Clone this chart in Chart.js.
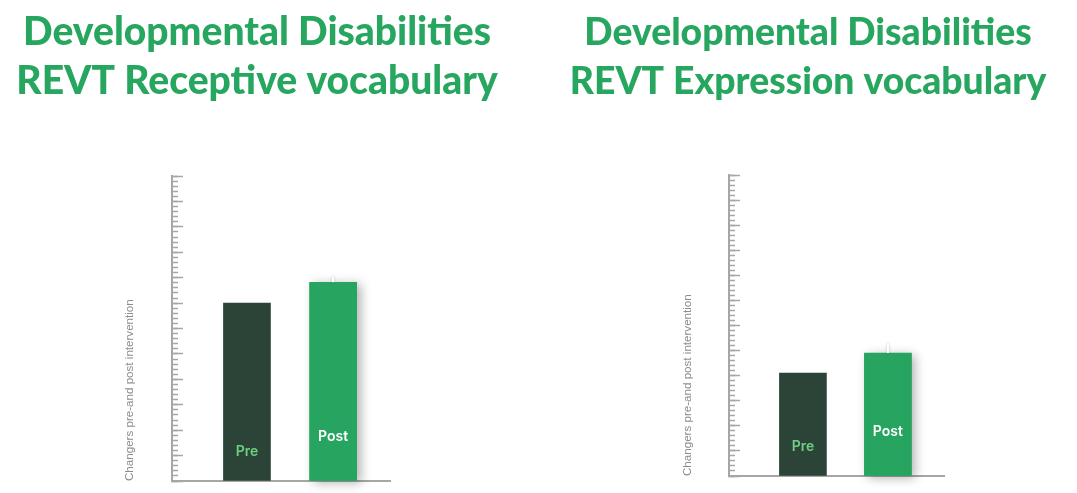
<!DOCTYPE html>
<html>
<head>
<meta charset="utf-8">
<script src="https://cdn.jsdelivr.net/npm/chart.js@4"></script>
<style>
  html, body { margin: 0; padding: 0; background: #ffffff; }
  body { width: 1077px; height: 493px; position: relative; overflow: hidden; }
  canvas { position: absolute; top: 0; }
</style>
</head>
<body>
<canvas id="left" width="514" height="493" style="left:0px"></canvas>
<canvas id="right" width="514" height="493" style="left:551px"></canvas>
<script>
// ---- data ----
const categories = ['Pre', 'Post'];
const categoryPositions = [1, 2];
const receptiveValues = [35, 39.1];
const receptiveErrorTop = [null, 40.2];
const expressionValues = [20.5, 24.5];
const expressionErrorTop = [null, 26.4];
const yMin = 0;
const yMax = 60;
const minorStep = 1;
const majorStep = 5;
const receptiveTitle = ['Developmental Disabilities', 'REVT Receptive vocabulary'];
const expressionTitle = ['Developmental Disabilities', 'REVT Expression vocabulary'];
const axisTitle = 'Changers pre-and post intervention';

// ---- styles ----
const barColors = ['#2b4437', '#27a45f'];
const labelColors = ['#6fcf80', '#ffffff'];
const titleColor = '#27a65f';
const axisColor = '#a6a6a6';

const barExtras = {
  id: 'barExtras',
  beforeDatasetsDraw(chart, args, opts) {
    const meta = chart.getDatasetMeta(0);
    const ctx = chart.ctx;
    meta.data.forEach((bar, i) => {
      if (!opts.shadow || !opts.shadow[i]) return;
      const p = bar.getProps(['x', 'y', 'base', 'width'], true);
      ctx.save();
      ctx.shadowColor = 'rgba(0,0,0,0.30)';
      ctx.shadowBlur = 10;
      ctx.shadowOffsetX = 4;
      ctx.shadowOffsetY = 2;
      ctx.fillStyle = bar.options.backgroundColor;
      ctx.fillRect(p.x - p.width / 2, p.y, p.width, p.base - p.y);
      ctx.restore();
    });
  },
  afterDatasetsDraw(chart, args, opts) {
    const meta = chart.getDatasetMeta(0);
    const ctx = chart.ctx;
    const yScale = chart.scales.y;
    const zero = yScale.getPixelForValue(0);
    meta.data.forEach((bar, i) => {
      const p = bar.getProps(['x', 'y', 'base', 'width'], true);
      const top = opts.errorTop[i];
      if (top !== null && top !== undefined) {
        ctx.save();
        ctx.strokeStyle = '#ffffff';
        ctx.lineWidth = 2;
        ctx.shadowColor = 'rgba(0,0,0,0.25)';
        ctx.shadowBlur = 3;
        ctx.beginPath();
        ctx.moveTo(p.x, p.y);
        ctx.lineTo(p.x, yScale.getPixelForValue(top));
        ctx.stroke();
        ctx.restore();
      }
      ctx.save();
      ctx.fillStyle = labelColors[i];
      ctx.font = '600 14px Inter';
      ctx.textAlign = 'center';
      ctx.textBaseline = 'middle';
      ctx.fillText(categories[i], p.x, zero - opts.labelOffsets[i]);
      ctx.restore();
    });
  }
};

function makeChart(id, values, errorTop, title, L) {
  return new Chart(document.getElementById(id), {
    type: 'bar',
    data: {
      datasets: [{
        data: values.map((v, i) => ({ x: categoryPositions[i], y: v })),
        backgroundColor: barColors,
        borderWidth: 0,
        barThickness: 47
      }]
    },
    options: {
      responsive: false,
      animation: false,
      layout: { padding: { left: 0, right: 0, top: 0, bottom: L.padBottom } },
      plugins: {
        legend: { display: false },
        tooltip: { enabled: false },
        title: {
          display: true,
          text: title,
          color: titleColor,
          font: { family: 'Lato', weight: '900', size: L.titleSize, lineHeight: '49px' },
          padding: { top: L.titleTop, bottom: L.titleBottom }
        },
        barExtras: { shadow: [false, true], errorTop: errorTop, labelOffsets: [29, 44] }
      },
      scales: {
        x: {
          type: 'linear', offset: false, min: 0.13, max: 2.66,
          ticks: { display: false },
          grid: { display: false },
          border: { display: true, color: axisColor, width: 2 },
          afterFit(s) { s.height = 0; }
        },
        y: {
          type: 'linear', position: 'left', weight: 1, min: yMin, max: yMax,
          ticks: { display: false, stepSize: minorStep },
          grid: { drawOnChartArea: false, drawTicks: true, tickLength: -6, tickColor: axisColor, tickWidth: 1.5 },
          border: { display: true, color: axisColor, width: 2 },
          title: { display: true, text: axisTitle, align: 'start', color: '#8c8c8c',
                   font: { family: 'Liberation Sans', size: 11.6 }, padding: { top: L.axisTitleX, bottom: 0 } },
          afterFit(s) { s.width = L.areaLeft; }
        },
        yMajor: {
          type: 'linear', position: 'left', weight: 0, min: yMin, max: yMax, display: true,
          ticks: { display: false, stepSize: majorStep },
          grid: { drawOnChartArea: false, drawTicks: true, tickLength: -11, tickColor: axisColor, tickWidth: 1.5 },
          border: { display: false },
          afterFit(s) { s.width = 0; }
        },
        rightSpace: {
          type: 'linear', position: 'right', display: true,
          ticks: { display: false },
          grid: { display: false },
          border: { display: false },
          afterFit(s) { s.width = L.rightSpace; }
        }
      }
    },
    plugins: [barExtras]
  });
}

makeChart('left', receptiveValues, receptiveErrorTop, receptiveTitle,
  { axisTitleX: 123.0, areaLeft: 172, rightSpace: 124, padBottom: 12, titleSize: 39, titleTop: 7.5, titleBottom: 70.5 });
makeChart('right', expressionValues, expressionErrorTop, expressionTitle,
  { axisTitleX: 130.0, areaLeft: 178, rightSpace: 121, padBottom: 17, titleSize: 37.3, titleTop: 8, titleBottom: 69 });
</script>
</body>
</html>
